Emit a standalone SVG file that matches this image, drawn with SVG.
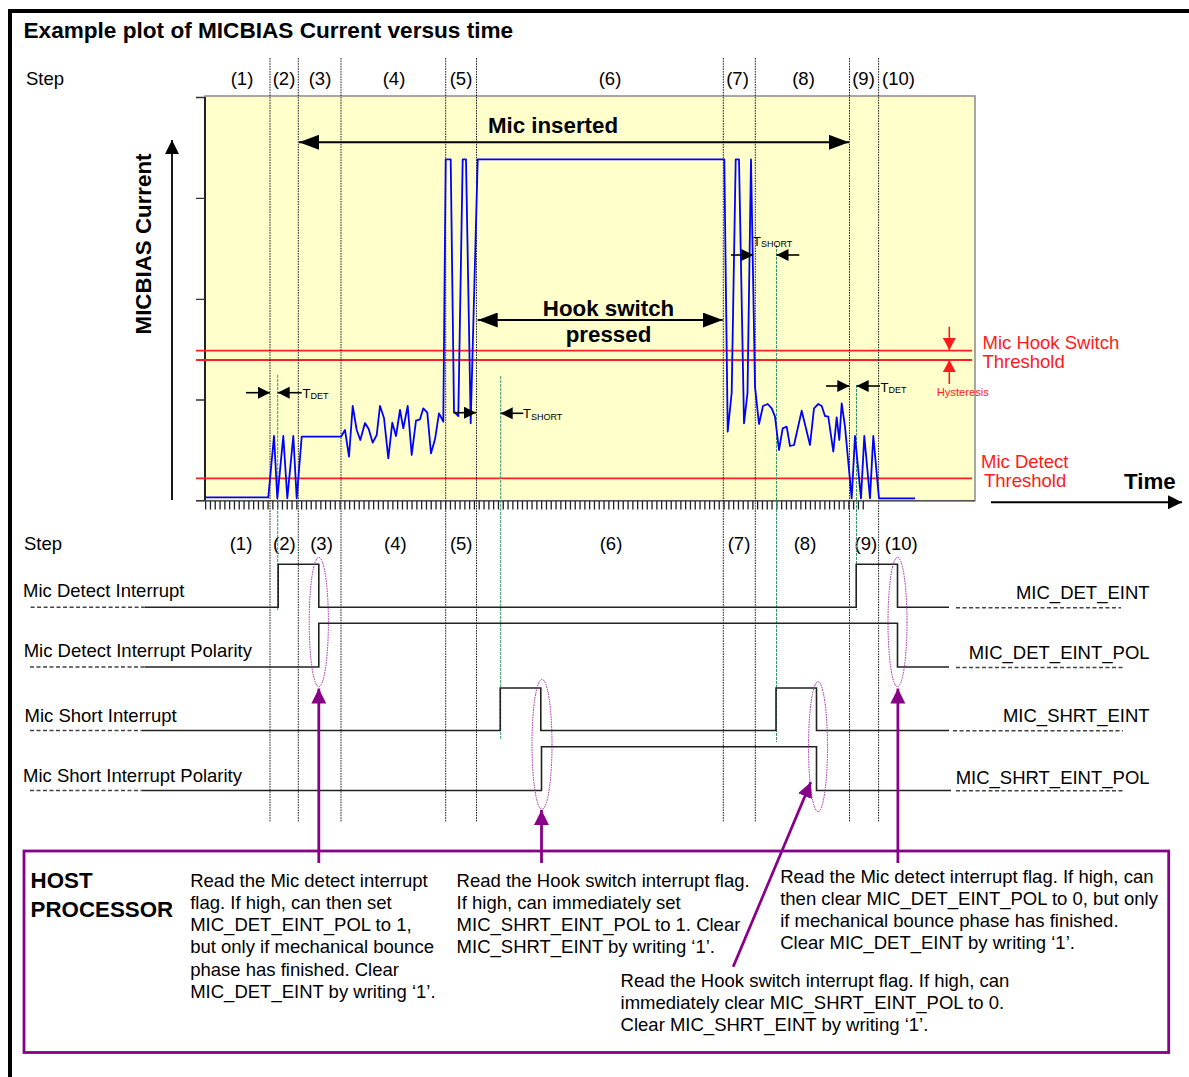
<svg xmlns="http://www.w3.org/2000/svg" width="1189" height="1077" viewBox="0 0 1189 1077">
<style>
text{font-family:"Liberation Sans",Arial,Helvetica,sans-serif;fill:#000}
.t{font-size:18.5px}
.b{font-size:22.3px;font-weight:bold}
.c{text-anchor:middle}
.r{text-anchor:end}
.red{fill:#ff1a1a}
.step{fill:none;stroke:#222;stroke-width:1;stroke-dasharray:1.6 1}
.grn{fill:none;stroke:#2f9a6a;stroke-width:1;stroke-dasharray:3 1}
.sig{fill:none;stroke:#222;stroke-width:1.6}
.dsh{fill:none;stroke:#444;stroke-width:1.4;stroke-dasharray:4 2.5}
.rl{fill:none;stroke:#ff2020;stroke-width:1.8}
.blk{fill:none;stroke:#000;stroke-width:2}
.sm{fill:none;stroke:#000;stroke-width:1.6}
.pur{fill:none;stroke:#880088;stroke-width:2.8}
.ell{fill:none;stroke:#a020a0;stroke-width:1;stroke-dasharray:1.5 1}
.sub{font-size:9px}
.tt{font-size:13px}
</style>
<defs>
<marker id="hb" viewBox="0 0 20 15" markerWidth="20" markerHeight="15" refX="20" refY="7.5" orient="auto-start-reverse" markerUnits="userSpaceOnUse"><path d="M0,0 L20,7.5 L0,15 z" fill="#000"/></marker>
<marker id="hs" viewBox="0 0 12 12" markerWidth="12" markerHeight="12" refX="12" refY="6" orient="auto-start-reverse" markerUnits="userSpaceOnUse"><path d="M0,0 L12,6 L0,12 z" fill="#000"/></marker>
<marker id="ha" viewBox="0 0 14 14" markerWidth="14" markerHeight="14" refX="14" refY="7" orient="auto" markerUnits="userSpaceOnUse"><path d="M0,0 L14,7 L0,14 z" fill="#000"/></marker>
<marker id="hr" viewBox="0 0 12 13" markerWidth="12" markerHeight="13" refX="12" refY="6.5" orient="auto" markerUnits="userSpaceOnUse"><path d="M0,0 L12,6.5 L0,13 z" fill="#ff1a1a"/></marker>
<marker id="hp" viewBox="0 0 15 15" markerWidth="15" markerHeight="15" refX="15" refY="7.5" orient="auto" markerUnits="userSpaceOnUse"><path d="M0,0 L15,7.5 L0,15 z" fill="#880088"/></marker>
</defs>

<g id="frame">
<path d="M10,1090 V11 H1200" fill="none" stroke="#000" stroke-width="4"/>
<text class="b" x="23.5" y="38" style="font-size:22.6px">Example plot of MICBIAS Current versus time</text>
</g>

<g id="plot">
<rect x="205" y="96" width="770" height="404.7" fill="#ffffcc" stroke="#8a8a8a" stroke-width="1.5"/>
<path d="M205,97 V500.7" stroke="#000" stroke-width="1.6" fill="none"/>
<path d="M196,500.7 H975" stroke="#555" stroke-width="1.6" fill="none"/>
<path d="M196,97.5 H205 M196,198.3 H205 M196,299.3 H205 M196,400 H205 M196,500.7 H205" stroke="#333" stroke-width="1.3" fill="none"/>
<path d="M205,505.3 H866" stroke="#222" stroke-width="8.5" stroke-dasharray="1.3 3.5" fill="none"/>
<path class="rl" d="M196,350.7 H972 M196,360 H972 M196,478.3 H972"/>
<text class="b" transform="translate(151,244) rotate(-90)" text-anchor="middle">MICBIAS Current</text>
<path d="M172,500 V140" stroke="#000" stroke-width="1.8" fill="none" marker-end="url(#ha)"/>
<text class="b" x="1124" y="489">Time</text>
<path d="M991,502.3 H1182" stroke="#000" stroke-width="2" fill="none" marker-end="url(#ha)"/>
<text class="t red" x="982.5" y="348.5">Mic Hook Switch</text>
<text class="t red" x="982.5" y="368">Threshold</text>
<text class="t red" x="981" y="467.5">Mic Detect</text>
<text class="t red" x="984" y="486.5">Threshold</text>
<text class="red" x="936.7" y="395.5" style="font-size:11.2px">Hysteresis</text>
<path d="M949.3,326.7 V350" stroke="#ff1a1a" stroke-width="1.6" fill="none" marker-end="url(#hr)"/>
<path d="M949.3,384 V360" stroke="#ff1a1a" stroke-width="1.6" fill="none" marker-end="url(#hr)"/>
</g>

<g id="steps">
<text class="t" x="26" y="85">Step</text>
<g class="t c">
<text x="242" y="85">(1)</text><text x="284" y="85">(2)</text><text x="320" y="85">(3)</text><text x="394" y="85">(4)</text><text x="461" y="85">(5)</text><text x="610" y="85">(6)</text><text x="737.5" y="85">(7)</text><text x="803.5" y="85">(8)</text><text x="863.5" y="85">(9)</text><text x="898.5" y="85">(10)</text>
</g>
<text class="t" x="24" y="549.5">Step</text>
<g class="t c">
<text x="241" y="549.5">(1)</text><text x="284.3" y="549.5">(2)</text><text x="321.5" y="549.5">(3)</text><text x="395.3" y="549.5">(4)</text><text x="461.2" y="549.5">(5)</text><text x="611" y="549.5">(6)</text><text x="739" y="549.5">(7)</text><text x="805" y="549.5">(8)</text><text x="865.8" y="549.5">(9)</text><text x="901.3" y="549.5">(10)</text>
</g>
<path class="step" d="M270,58 V822 M298.3,58 V822 M341,58 V822 M445.7,58 V822 M476.5,58 V822 M723.3,58 V822 M755.3,58 V822 M849.5,58 V822 M878.6,58 V822"/>
<path class="grn" d="M277.7,375 V610 M500.7,376 V739 M776.5,245 V742 M856.5,385 V610"/>
</g>

<g id="current-waveform">
<polyline fill="none" stroke="#0000ff" stroke-width="1.8" stroke-linejoin="round" points="205,497.3 268.3,497.3 274,436 277.3,498.3 283.3,436 287.3,498.3 293.3,436 296.7,498.3 301.7,436.7 341,436.7 345,430 349,456.7 352.7,406 356.7,430 360.3,440 365,423 368.7,429 372.7,442.7 376.7,435 380,406 384,418 388.3,458.3 392.3,422.7 396,436 400,410 403.3,428.3 407.7,406 411.7,455 416,420.7 420,419.3 423.3,408.3 427.3,412.7 431,453.3 435,439.3 439,413.3 443.3,421.7 445.7,159.3 450.7,159.3 454,411.7 458.3,416 462.7,159.3 466,159.3 470.7,423.3 477.7,159.3 724.3,159.3 727.7,431.7 731.7,392.5 735.7,159.3 739,159.3 744,423.3 747.5,393 751,159.3 755,386.7 759,424 763,406 767.7,404 771.7,408.3 775,416.7 779,450 782.7,428.3 786.7,426.7 790,446 794,445 801.7,410.7 810,445 814,408.3 818.3,404 821.7,406 825,416 828.3,416.7 833.3,451.7 836.7,417.3 839.3,440 841.7,403.3 845,426.7 851.7,498.3 855,436 861,498.3 864.3,436 870,498.3 873.3,436 879,498.3 915,498.3"/>
</g>

<g id="annotations">
<path class="blk" d="M299,142.3 H849" marker-start="url(#hb)" marker-end="url(#hb)"/>
<text class="b c" x="553" y="133">Mic inserted</text>
<path class="blk" d="M477.7,320 H722.7" marker-start="url(#hb)" marker-end="url(#hb)"/>
<text class="b c" x="608.5" y="315.7">Hook switch</text>
<text class="b c" x="608.5" y="342">pressed</text>
<path class="sm" d="M246,392.7 H270" marker-end="url(#hs)"/>
<path class="sm" d="M301.7,392.7 H277.7" marker-end="url(#hs)"/>
<text class="tt" x="302.5" y="398.3">T<tspan class="sub" dy="1">DET</tspan></text>
<path class="sm" d="M453.3,412.7 H476" marker-end="url(#hs)"/>
<path class="sm" d="M523.3,413.3 H500.7" marker-end="url(#hs)"/>
<text class="tt" x="523" y="418.3">T<tspan class="sub" dy="1.5">SHORT</tspan></text>
<path class="sm" d="M731,255 H753.3" marker-end="url(#hs)"/>
<path class="sm" d="M799.3,255 H776.5" marker-end="url(#hs)"/>
<text class="tt" x="753" y="245.7">T<tspan class="sub" dy="1">SHORT</tspan></text>
<path class="sm" d="M826,386 H849.3" marker-end="url(#hs)"/>
<path class="sm" d="M880,386 H856.7" marker-end="url(#hs)"/>
<text class="tt" x="880.5" y="391.7">T<tspan class="sub" dy="1">DET</tspan></text>
</g>

<g id="sig-mic-detect-interrupt">
<text class="t" x="23" y="597.3">Mic Detect Interrupt</text>
<path class="dsh" d="M30.6,607.3 H144.7"/>
<path class="sig" d="M144.7,607.3 H278.2 V564.3 H318.8 V607.3 H856.2 V564.3 H897.5 V607.3 H949"/>
<path class="dsh" d="M956,607.7 H1121"/>
<text class="t r" x="1149.6" y="599">MIC_DET_EINT</text>
</g>
<g id="sig-mic-detect-polarity">
<text class="t" x="23.7" y="657.3">Mic Detect Interrupt Polarity</text>
<path class="dsh" d="M30,667 H144.7"/>
<path class="sig" d="M144.7,667 H318.8 V623.3 H897.5 V667 H949"/>
<path class="dsh" d="M956,667.5 H1123"/>
<text class="t r" x="1149.6" y="659.3">MIC_DET_EINT_POL</text>
</g>
<g id="sig-mic-short-interrupt">
<text class="t" x="24.5" y="721.7">Mic Short Interrupt</text>
<path class="dsh" d="M30,730.5 H141.6"/>
<path class="sig" d="M141.6,730.5 H500.2 V688 H540.8 V730.5 H776 V688 H816.5 V730.5 H949"/>
<path class="dsh" d="M953,730.7 H1123"/>
<text class="t r" x="1149.6" y="721.7">MIC_SHRT_EINT</text>
</g>
<g id="sig-mic-short-polarity">
<text class="t" x="23" y="781.7">Mic Short Interrupt Polarity</text>
<path class="dsh" d="M30,790.5 H141.6"/>
<path class="sig" d="M141.6,790.5 H541.5 V746.7 H816.5 V790.5 H951"/>
<path class="dsh" d="M956,790.7 H1123"/>
<text class="t r" x="1149.6" y="784.3">MIC_SHRT_EINT_POL</text>
</g>

<g id="highlights">
<ellipse class="ell" cx="318.8" cy="622" rx="9.6" ry="64.7"/>
<ellipse class="ell" cx="542" cy="744.3" rx="10" ry="65"/>
<ellipse class="ell" cx="818" cy="746.7" rx="9.5" ry="65"/>
<ellipse class="ell" cx="897.5" cy="622" rx="9.5" ry="64.7"/>
</g>

<g id="host-processor">
<rect x="24" y="851" width="1144.7" height="201.5" fill="none" stroke="#880088" stroke-width="2.8"/>
<text class="b" x="30.6" y="888.3">HOST</text>
<text class="b" x="30.6" y="916.7">PROCESSOR</text>
</g>
<g id="note-det-set" class="t">
<text x="190.2" y="886.7">Read the Mic detect interrupt</text>
<text x="190.2" y="908.9">flag. If high, can then set</text>
<text x="190.2" y="931.1">MIC_DET_EINT_POL to 1,</text>
<text x="190.2" y="953.3">but only if mechanical bounce</text>
<text x="190.2" y="975.5">phase has finished. Clear</text>
<text x="190.2" y="997.7">MIC_DET_EINT by writing ‘1’.</text>
</g>
<g id="note-shrt-set" class="t">
<text x="456.6" y="886.7">Read the Hook switch interrupt flag.</text>
<text x="456.6" y="908.9">If high, can immediately set</text>
<text x="456.6" y="931.1">MIC_SHRT_EINT_POL to 1. Clear</text>
<text x="456.6" y="953.3">MIC_SHRT_EINT by writing ‘1’.</text>
</g>
<g id="note-det-clear" class="t">
<text x="780.2" y="883.3">Read the Mic detect interrupt flag. If high, can</text>
<text x="780.2" y="905.3">then clear MIC_DET_EINT_POL to 0, but only</text>
<text x="780.2" y="927.3">if mechanical bounce phase has finished.</text>
<text x="780.2" y="949.3">Clear MIC_DET_EINT by writing ‘1’.</text>
</g>
<g id="note-shrt-clear" class="t">
<text x="620.6" y="986.7">Read the Hook switch interrupt flag. If high, can</text>
<text x="620.6" y="1008.9">immediately clear MIC_SHRT_EINT_POL to 0.</text>
<text x="620.6" y="1031.1">Clear MIC_SHRT_EINT by writing ‘1’.</text>
</g>

<g id="connectors">
<path class="pur" d="M318.8,863 V688.5" marker-end="url(#hp)"/>
<path class="pur" d="M541.5,863 V810" marker-end="url(#hp)"/>
<path class="pur" d="M733.2,966.7 L810.8,782.3" marker-end="url(#hp)"/>
<path class="pur" d="M897.9,863 V688.5" marker-end="url(#hp)"/>
</g>
</svg>
